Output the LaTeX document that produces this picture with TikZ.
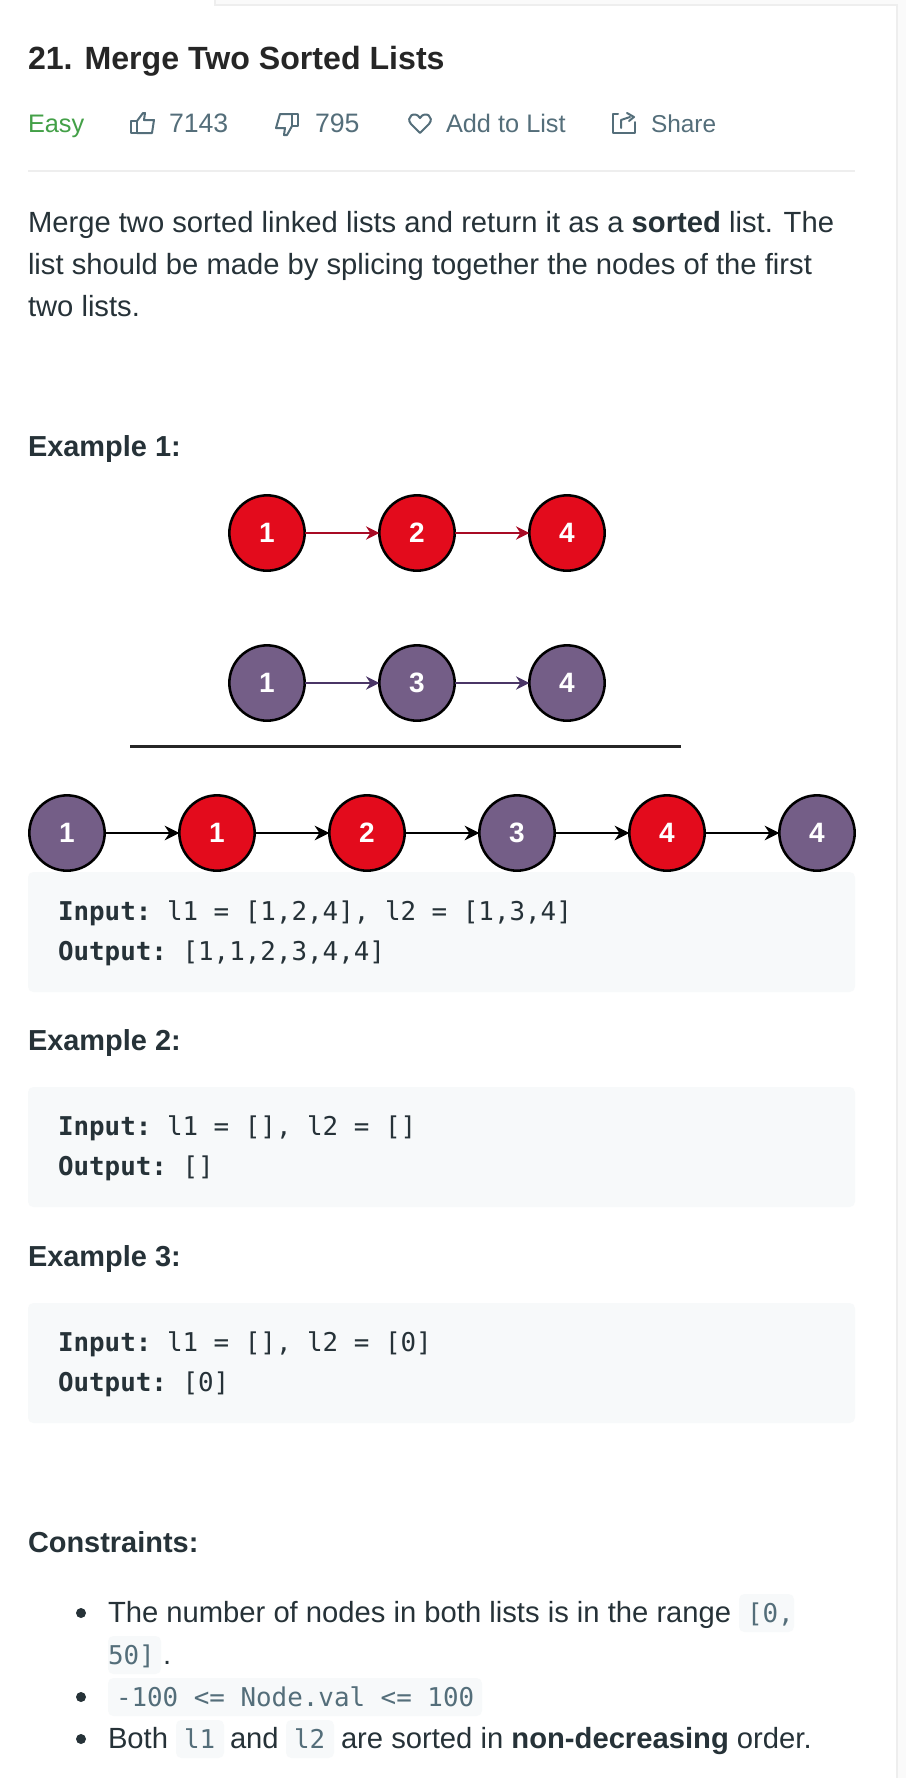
\documentclass[tikz,border=0pt]{standalone}
\usepackage{fontspec}
\setmainfont{Liberation Sans}
\setmonofont{DejaVu Sans Mono}
\usepackage{tikz}
\usetikzlibrary{arrows.meta,positioning}
\definecolor{inkdark}{HTML}{263238}
\definecolor{inkmeta}{HTML}{546E7A}
\definecolor{easygreen}{HTML}{43A047}
\definecolor{listred}{HTML}{E30B1C}
\definecolor{listpurple}{HTML}{745E87}
\definecolor{arrowred}{HTML}{A80A24}
\definecolor{arrowpurple}{HTML}{4A3566}
\definecolor{codebg}{HTML}{F7F9FA}
\definecolor{edgegray}{HTML}{EEEEEE}
\definecolor{pagegray}{HTML}{FAFAFA}
\begin{document}
\begin{tikzpicture}
    [x=.75pt,y=-.75pt,node distance=56pt,
    listnode/.style={circle, minimum size=56.5pt, inner sep=0pt, outer sep=0pt, draw=black, line width=1.9pt, text=white, font=\fontsize{21}{21}\selectfont\bfseries},
    rednode/.style={listnode, fill=listred},
    purplenode/.style={listnode, fill=listpurple},
    redlink/.style={-{Stealth[length=10pt,width=10pt]}, draw=arrowred, line width=1.3pt},
    purplelink/.style={-{Stealth[length=10pt,width=10pt]}, draw=arrowpurple, line width=1.3pt},
    blacklink/.style={-{Stealth[length=11pt,width=11pt]}, draw=black, line width=1.6pt},
    plain/.style={anchor=base west, inner sep=0pt, outer sep=0pt, text=inkdark},
    meta/.style={plain, text=inkmeta, font=\fontsize{19}{19}\selectfont},
    heading/.style={plain, font=\fontsize{21.7}{21.7}\selectfont\bfseries},
    body/.style={plain, font=\fontsize{21.9}{21.9}\selectfont},
    code/.style={plain, font=\fontsize{19.4}{19.4}\selectfont\ttfamily},
    chipcode/.style={code, text=inkmeta},
    codebox/.style={fill=codebg, rounded corners=4pt},
    icon/.style={draw=inkmeta, line width=1.5pt, line join=round, line cap=round}]
    \useasboundingbox (0,0) rectangle (906,1778);
    \fill[white] (0,0) rectangle (906,1778);

    % page edges
    \fill[pagegray] (214,0) rectangle (906,4);
    \fill[pagegray] (898,0) rectangle (906,1778);
    \fill[edgegray] (214,4) rectangle (898,6);
    \fill[edgegray] (214,0) rectangle (216,6);
    \fill[edgegray] (896,4) rectangle (898,1778);

    % header
    \node (title) [plain, font=\fontsize{24.1}{24.1}\selectfont\bfseries, text=black!85] at (28,69) {21. Merge Two Sorted Lists};
    \node (easy) [meta, text=easygreen] at (28,132) {Easy};
    \node (likes) [meta, font=\fontsize{20}{20}\selectfont] at (169,132) {7143};
    \node (dislikes) [meta, font=\fontsize{20}{20}\selectfont] at (315,132) {795};
    \node (addlist) [meta] at (446,132) {Add to List};
    \node (share) [meta, font=\fontsize{18.3}{18.3}\selectfont] at (651,132) {Share};

    % icons
    \draw[icon] (131,121) rectangle (137,133);
    \draw[icon] (137,121) -- (143,113) -- (145,113) -- (144,120) -- (154,120) -- (152,133) -- (137,133);
    \draw[icon] (292,114) rectangle (298,126);
    \draw[icon] (292,114) -- (280,114) -- (276,128) -- (285,128) -- (284,135) -- (287,135) -- (292,126);
    \draw[icon] (420,133) -- (411,124) .. controls (405,117) and (415,110) .. (420,118) .. controls (425,110) and (435,117) .. (429,124) -- cycle;
    \draw[icon] (618,114) -- (613,114) -- (613,133) -- (635,133) -- (635,122);
    \draw[icon] (621,128) -- (621,120) -- (630,117);
    \draw[icon] (627,113) -- (634,117) -- (629,121);

    \fill[edgegray] (28,170) rectangle (855,172);

    % statement
    \node (line-a) [body] at (28,232) {Merge two sorted linked lists and return it as a \textbf{sorted} list. The};
    \node (line-b) [body] at (28,274) {list should be made by splicing together the nodes of the first};
    \node (line-c) [body] at (28,316) {two lists.};

    \node (ex-a) [heading] at (28,456) {Example 1:};

    % first list
    \node (red-a) [rednode] at (267,533) {1};
    \node (red-b) [rednode, right=of red-a] {2};
    \node (red-c) [rednode, right=of red-b] {4};
    \draw[redlink] (red-a) -- (red-b);
    \draw[redlink] (red-b) -- (red-c);

    % second list
    \node (pur-a) [purplenode] at (267,683) {1};
    \node (pur-b) [purplenode, right=of pur-a] {3};
    \node (pur-c) [purplenode, right=of pur-b] {4};
    \draw[purplelink] (pur-a) -- (pur-b);
    \draw[purplelink] (pur-b) -- (pur-c);

    \coordinate (rule-a) at (130,746.5);
    \coordinate (rule-b) at (681,746.5);
    \draw[black!85, line width=2.25pt] (rule-a) -- (rule-b);

    % merged list
    \node (out-a) [purplenode] at (67,833) {1};
    \node (out-b) [rednode, right=of out-a] {1};
    \node (out-c) [rednode, right=of out-b] {2};
    \node (out-d) [purplenode, right=of out-c] {3};
    \node (out-e) [rednode, right=of out-d] {4};
    \node (out-f) [purplenode, right=of out-e] {4};
    \draw[blacklink] (out-a) -- (out-b);
    \draw[blacklink] (out-b) -- (out-c);
    \draw[blacklink] (out-c) -- (out-d);
    \draw[blacklink] (out-d) -- (out-e);
    \draw[blacklink] (out-e) -- (out-f);

    % example boxes
    \fill[codebox] (28,872) rectangle (855,992);
    \fill[codebox] (28,1087) rectangle (855,1207);
    \fill[codebox] (28,1303) rectangle (855,1423);

    \node (in-a) [code] at (58,920) {\textbf{Input:} l1 = [1,2,4], l2 = [1,3,4]};
    \node (out-text-a) [code] at (58,960) {\textbf{Output:} [1,1,2,3,4,4]};
    \node (ex-b) [heading] at (28,1050) {Example 2:};
    \node (in-b) [code] at (58,1135) {\textbf{Input:} l1 = [], l2 = []};
    \node (out-text-b) [code] at (58,1175) {\textbf{Output:} []};
    \node (ex-c) [heading] at (28,1266) {Example 3:};
    \node (in-c) [code] at (58,1351) {\textbf{Input:} l1 = [], l2 = [0]};
    \node (out-text-c) [code] at (58,1391) {\textbf{Output:} [0]};

    % constraints
    \node (limits) [heading] at (28,1552) {Constraints:};
    \fill[inkdark] (81,1613) circle (5);
    \fill[inkdark] (81,1697) circle (5);
    \fill[inkdark] (81,1739) circle (5);
    \fill[codebox] (739,1594) rectangle (794,1632);
    \fill[codebox] (108,1636) rectangle (161,1674);
    \fill[codebox] (108,1678) rectangle (482,1716);
    \fill[codebox] (176,1720) rectangle (224,1758);
    \fill[codebox] (286,1720) rectangle (334,1758);
    \node (item-a) [body] at (108,1622) {The number of nodes in both lists is in the range};
    \node (chip-a) [chipcode] at (747,1622) {[0,};
    \node (chip-b) [chipcode] at (108,1664) {50]};
    \node (dot) [body] at (163,1664) {.};
    \node (chip-c) [chipcode] at (116,1706) {-100 <= Node.val <= 100};
    \node (item-c) [body] at (108,1748) {Both};
    \node (chip-d) [chipcode] at (184,1748) {l1};
    \node (and) [body] at (230,1748) {and};
    \node (chip-e) [chipcode] at (294,1748) {l2};
    \node (item-d) [body] at (341,1748) {are sorted in \textbf{non-decreasing} order.};
\end{tikzpicture}
\end{document}
